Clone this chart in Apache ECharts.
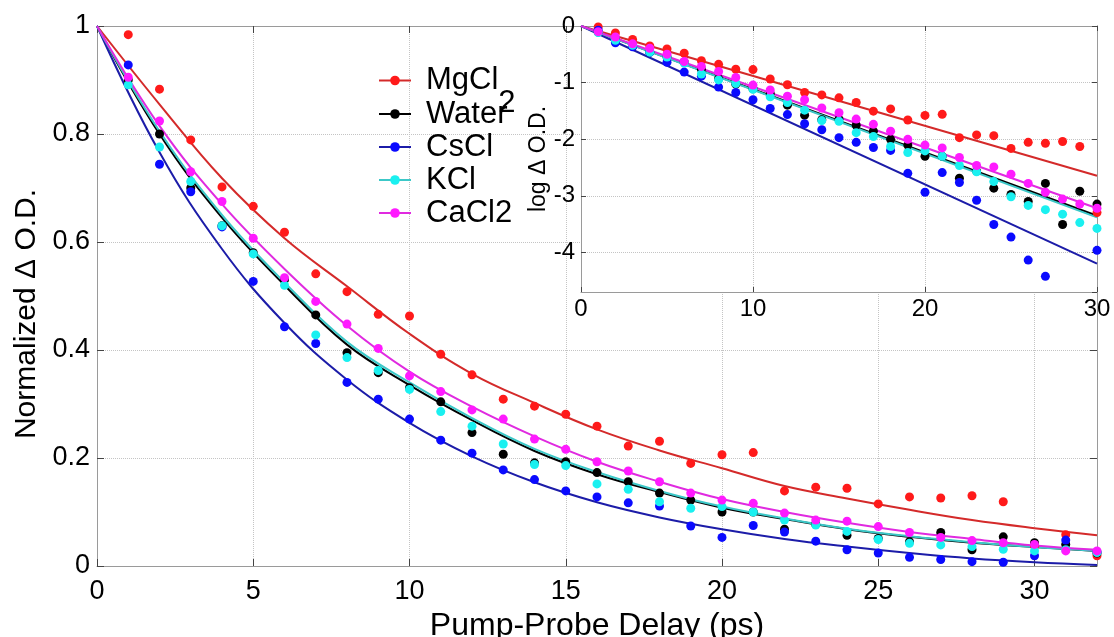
<!DOCTYPE html>
<html><head><meta charset="utf-8">
<script src="https://cdn.jsdelivr.net/npm/echarts@6/dist/echarts.min.js"></script>
<style>html,body{margin:0;padding:0;background:#fff}#c{width:1114px;height:637px}</style>
</head><body><div id="c"></div>
<script>
// ---- data ----
const seriesNames = ['MgCl2', 'Water', 'CsCl', 'KCl', 'CaCl2'];
const delays = [1,2,3,4,5,6,7,8,9,10,11,12,13,14,15,16,17,18,19,20,21,22,23,24,25,26,27,28,29,30,31,32];
const mgcl2 = [0.984,0.883,0.789,0.702,0.666,0.618,0.541,0.508,0.466,0.463,0.392,0.354,0.309,0.296,0.281,0.259,0.222,0.231,0.190,0.206,0.210,0.139,0.146,0.144,0.115,0.128,0.126,0.130,0.119,0.037,0.058,0.019];
const water = [0.900,0.800,0.700,0.630,0.580,0.530,0.465,0.395,0.358,0.330,0.304,0.247,0.207,0.191,0.193,0.173,0.156,0.135,0.122,0.100,0.100,0.068,0.077,0.057,0.051,0.045,0.062,0.030,0.054,0.043,0.040,0.024];
const cscl = [0.928,0.744,0.693,0.628,0.527,0.443,0.412,0.340,0.309,0.272,0.233,0.209,0.178,0.160,0.139,0.128,0.117,0.111,0.074,0.053,0.075,0.063,0.046,0.030,0.024,0.016,0.012,0.008,0.007,0.019,0.048,0.026];
const kcl = [0.891,0.776,0.712,0.630,0.578,0.520,0.428,0.386,0.362,0.327,0.286,0.259,0.226,0.188,0.186,0.152,0.142,0.119,0.107,0.110,0.100,0.085,0.076,0.064,0.049,0.042,0.039,0.036,0.031,0.028,0.030,0.025];
const cacl2 = [0.905,0.824,0.730,0.675,0.607,0.534,0.490,0.448,0.403,0.352,0.323,0.289,0.272,0.235,0.216,0.193,0.176,0.156,0.135,0.122,0.116,0.098,0.085,0.083,0.073,0.062,0.053,0.047,0.043,0.040,0.028,0.028];

// fitted curves in the main panel
const fitDelays = [0,2,4,6,8,10,12,14,16,18,20,22,24,26,28,30,32];
const fitMgcl2 = [1,0.855,0.718,0.607,0.518,0.430,0.356,0.302,0.253,0.214,0.181,0.148,0.125,0.104,0.085,0.070,0.057];
const fitWater = [1,0.800,0.645,0.520,0.410,0.335,0.270,0.213,0.170,0.137,0.108,0.087,0.068,0.054,0.043,0.035,0.028];
const fitCscl  = [1,0.766,0.587,0.450,0.345,0.265,0.203,0.155,0.118,0.090,0.068,0.050,0.036,0.024,0.014,0.007,0.002];
const fitKcl   = [1,0.805,0.650,0.525,0.415,0.340,0.274,0.217,0.174,0.139,0.110,0.088,0.069,0.055,0.044,0.035,0.028];
const fitCacl2 = [1,0.815,0.670,0.550,0.445,0.360,0.295,0.240,0.193,0.156,0.124,0.100,0.080,0.063,0.050,0.038,0.030];

// straight fits in the inset (end values at 0 and 30 ps)
const insetFitDelays = [0, 30];
const insetFitMgcl2 = [1, 0.071];
const insetFitWater = [1, 0.035];
const insetFitCscl  = [1, 0.015];
const insetFitKcl   = [1, 0.034];
const insetFitCacl2 = [1, 0.040];
const insetMaxDelay = 30;

// tick labels
const mainYTickLabels = {0:'0', 0.2:'0.2', 0.4:'0.4', 0.6:'0.6', 0.8:'0.8', 1:'1'};

// ---- styling ----
const FONT = 'Liberation Sans, Arial, sans-serif';
const dotColors = ['#ff1a1a', '#000000', '#0a0aff', '#1af0f0', '#ff1aff'];
const lineColors = ['#d42a2a', '#000000', '#1c1ca8', '#3cc8c8', '#e02ae0'];
const pts = [mgcl2, water, cscl, kcl, cacl2];
const fits = [fitMgcl2, fitWater, fitCscl, fitKcl, fitCacl2];
const insetFits = [insetFitMgcl2, insetFitWater, insetFitCscl, insetFitKcl, insetFitCacl2];

const pair = (xs, ys) => xs.map((x, i) => [x, ys[i]]);
const gridLine = {show: true, lineStyle: {type: 'dotted', color: '#c4c4c4', width: 1}};
const axLine = {show: true, onZero: false, lineStyle: {color: '#9a9a9a', width: 1}};
const tick = (len) => ({show: true, inside: true, length: len, lineStyle: {color: '#444', width: 1}});

const series = [];
seriesNames.forEach((n, k) => {
  series.push({type: 'line', name: n, xAxisIndex: 0, yAxisIndex: 0, data: pair(fitDelays, fits[k]),
    smooth: 0.4, showSymbol: false, symbol: 'circle', symbolSize: 9,
    lineStyle: {color: lineColors[k], width: 2}, itemStyle: {color: dotColors[k]}, z: 2});
});
seriesNames.forEach((n, k) => {
  series.push({type: 'scatter', name: n, xAxisIndex: 0, yAxisIndex: 0, data: pair(delays, pts[k]),
    symbolSize: 9, itemStyle: {color: dotColors[k], opacity: 1}, z: 3});
});
seriesNames.forEach((n, k) => {
  series.push({type: 'line', name: n, xAxisIndex: 2, yAxisIndex: 2, data: pair(insetFitDelays, insetFits[k]),
    showSymbol: false, symbol: 'circle', lineStyle: {color: lineColors[k], width: 2}, itemStyle: {color: dotColors[k]}, z: 4});
});
seriesNames.forEach((n, k) => {
  const d = pair(delays, pts[k]).filter(p => p[0] <= insetMaxDelay);
  series.push({type: 'scatter', name: n, xAxisIndex: 2, yAxisIndex: 2, data: d, clip: true,
    symbolSize: 9, itemStyle: {color: dotColors[k], opacity: 1}, z: 5});
});

const option = {
  animation: false,
  backgroundColor: '#fff',
  textStyle: {fontFamily: FONT},
  grid: [
    {left: 97, top: 26, width: 1000, height: 540, containLabel: false, outerBoundsMode: 'none'},
    {left: 581, top: 26, width: 516, height: 266, containLabel: false, outerBoundsMode: 'none', show: true,
     backgroundColor: '#ffffff', borderWidth: 0, z: 1}
  ],
  xAxis: [
    {gridIndex: 0, type: 'value', position: 'bottom', min: 0, max: 32, interval: 5,
     axisLine: axLine, axisTick: tick(7), splitLine: gridLine,
     axisLabel: {fontSize: 27, color: '#000', margin: 12, showMaxLabel: false, fontFamily: FONT},
     name: 'Pump-Probe Delay (ps)', nameLocation: 'middle', nameGap: 42,
     nameTextStyle: {fontSize: 32, color: '#000', fontFamily: FONT}},
    {gridIndex: 0, type: 'value', position: 'top', min: 0, max: 32, interval: 5,
     axisLine: axLine, axisTick: tick(7), splitLine: {show: false}, axisLabel: {show: false}},
    {gridIndex: 1, type: 'value', position: 'bottom', min: 0, max: 30, interval: 10, z: 1,
     axisLine: axLine, axisTick: tick(5), splitLine: gridLine,
     axisLabel: {fontSize: 24, color: '#000', margin: 5, fontFamily: FONT}},
    {gridIndex: 1, type: 'value', position: 'top', min: 0, max: 30, interval: 10, z: 1,
     axisLine: axLine, axisTick: tick(5), splitLine: {show: false}, axisLabel: {show: false}}
  ],
  yAxis: [
    {gridIndex: 0, type: 'value', position: 'left', min: 0, max: 1, interval: 0.2,
     axisLine: axLine, axisTick: tick(7), splitLine: gridLine,
     axisLabel: {fontSize: 27, color: '#000', margin: 7, fontFamily: FONT,
                 formatter: v => mainYTickLabels[Math.round(v * 10) / 10]},
     name: 'Normalized \u0394 O.D.', nameLocation: 'middle', nameGap: 50,
     nameTextStyle: {fontSize: 30, color: '#000', fontFamily: FONT, padding: [0, 36, 0, 0]}},
    {gridIndex: 0, type: 'value', position: 'right', min: 0, max: 1, interval: 0.2,
     axisLine: axLine, axisTick: tick(7), splitLine: {show: false}, axisLabel: {show: false}},
    {gridIndex: 1, type: 'log', logBase: Math.E, position: 'left', min: 0.0091, max: 1, splitNumber: 5, z: 1,
     axisLine: axLine, axisTick: tick(5), splitLine: gridLine,
     axisLabel: {fontSize: 24, color: '#000', margin: 6, fontFamily: FONT, showMinLabel: false,
                 formatter: v => String(Math.round(Math.log(v)))},
     name: 'log \u0394 O.D.', nameLocation: 'middle', nameGap: 27,
     nameTextStyle: {fontSize: 23, color: '#000', fontFamily: FONT}},
    {gridIndex: 1, type: 'log', logBase: Math.E, position: 'right', min: 0.0091, max: 1, splitNumber: 5, z: 1,
     axisLine: axLine, axisTick: tick(5), splitLine: {show: false}, axisLabel: {show: false}}
  ],
  legend: [
    {data: ['MgCl2'], orient: 'vertical', left: 378, top: 65, padding: 0, itemGap: 0,
     itemWidth: 32, itemHeight: 12,
     formatter: () => '{a|MgCl}{s|2}',
     textStyle: {padding: [0, 0, 0, 10],
       rich: {a: {fontSize: 31, lineHeight: 33, color: '#000', fontFamily: FONT},
              s: {fontSize: 31, lineHeight: 76, verticalAlign: 'bottom', color: '#000', fontFamily: FONT}}}},
    {data: ['Water', 'CsCl', 'KCl', 'CaCl2'], orient: 'vertical', left: 378, top: 97.5, padding: 0, itemGap: 0,
     itemWidth: 32, itemHeight: 12,
     textStyle: {fontSize: 31, lineHeight: 33, color: '#000', fontFamily: FONT, padding: [0, 0, 0, 10]}}
  ],
  series: series
};
const chart = echarts.init(document.getElementById('c'), null, {renderer: 'canvas'});
chart.setOption(option);
</script>
</body></html>
